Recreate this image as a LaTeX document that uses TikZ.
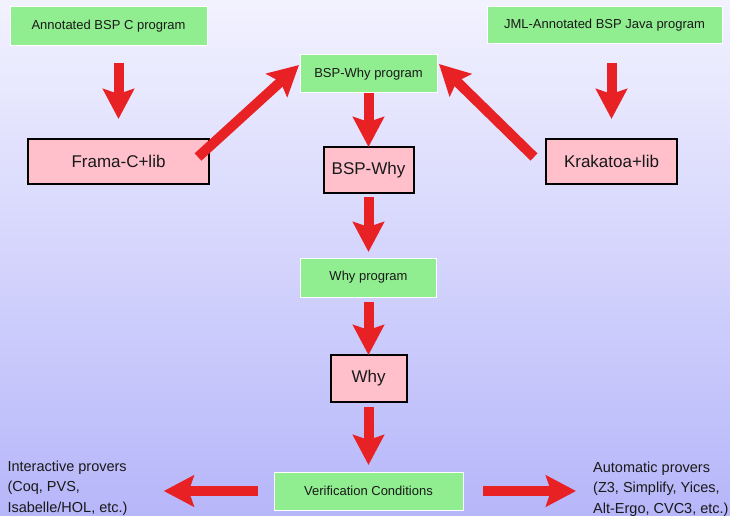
\documentclass[tikz,border=0pt]{standalone}
\usepackage{fontspec}
\setmainfont{Liberation Sans}
\usepackage{tikz}
\usetikzlibrary{arrows.meta, positioning}

\definecolor{bgtop}{RGB}{242,242,255}
\definecolor{bgbottom}{RGB}{182,182,250}
\definecolor{arrowred}{RGB}{232,34,36}
\definecolor{boxgreen}{RGB}{144,238,144}
\definecolor{boxpink}{RGB}{255,192,203}
\definecolor{textdark}{RGB}{25,25,25}

\begin{document}
\begin{tikzpicture}[
	x = 1pt, y = -1pt, % pixel grid, y down
	bigarrow/.style = {draw = arrowred, line width = 10pt,
		-{Stealth[length=30pt, width=31pt, inset=5pt]}}, % fat red arrow
	text = textdark
	]
	
	\tikzstyle{greenbox}=[
	draw = white,
	line width = 1pt,
	fill = boxgreen,
	outer sep = 0pt,
	font = \fontsize{13}{15}\selectfont
	]
	\tikzstyle{pinkbox}=[
	draw = black,
	line width = 2pt,
	fill = boxpink,
	outer sep = 0pt,
	font = \fontsize{17}{20}\selectfont
	]
	\tikzstyle{provers}=[
	inner sep = 0pt,
	align = left,
	anchor = north west,
	font = \fontsize{14.5}{20.5}\selectfont
	]
	
	% background
	\shade[top color = bgtop, bottom color = bgbottom] (0,0) rectangle (730,516);
	\useasboundingbox (0,0) rectangle (730,516);
	
	% central column
	\node[greenbox, minimum width=137pt, minimum height=38pt] (bspwhyprog) at (368.5,74) {BSP-Why program};
	\node[pinkbox, minimum width=90pt, minimum height=46pt] (bspwhy) [below=54pt of bspwhyprog] {BSP-Why};
	\node[greenbox, minimum width=136pt, minimum height=39pt] (whyprog) [below=65pt of bspwhy] {Why program};
	\node[pinkbox, minimum width=76pt, minimum height=47pt] (why) [below=58pt of whyprog] {Why};
	\node[greenbox, minimum width=189pt, minimum height=38pt] (verif) [below=70pt of why] {Verification Conditions};
	
	% front ends
	\node[greenbox, minimum width=197pt, minimum height=39pt] (annotc) at (108.5,26.5) {Annotated BSP C program};
	\node[pinkbox, minimum width=181pt, minimum height=45pt] (frama) at (118.5,161.5) {Frama-C+lib};
	\node[greenbox, minimum width=235pt, minimum height=37pt] (annotjava) at (604.5,25.5) {JML-Annotated BSP Java program};
	\node[pinkbox, minimum width=131pt, minimum height=45pt] (krakatoa) at (611.5,161.5) {Krakatoa+lib};
	
	% provers
	\node[provers] (interactive) at (7.3,460.6) {Interactive provers\\(Coq, PVS,\\Isabelle/HOL, etc.)};
	\node[provers] (automatic) at (593,461.6) {Automatic provers\\(Z3, Simplify, Yices,\\Alt-Ergo, CVC3, etc.)};
	
	\path (frama.north |- annotc.south) edge[bigarrow, shorten <=17pt, shorten >=20pt] (frama.north);
	\path (krakatoa.north |- annotjava.south) edge[bigarrow, shorten <=19pt, shorten >=20pt] (krakatoa.north);
	\path ([shift={(-11,-4.5)}]frama.east) edge[bigarrow] ([shift={(-1,-9)}]bspwhyprog.west);
	\path ([shift={(-12,-4.5)}]krakatoa.west) edge[bigarrow] ([shift={(2,-10)}]bspwhyprog.east);
	\path (bspwhyprog) edge[bigarrow] (bspwhy);
	\path (bspwhy) edge[bigarrow, shorten <=4pt, shorten >=6pt] (whyprog);
	\path (whyprog) edge[bigarrow, shorten <=5pt] (why);
	\path (why) edge[bigarrow, shorten <=5pt, shorten >=7pt] (verif);
	\path (verif.west) edge[bigarrow, shorten <=16pt, shorten >=36pt] (verif.west -| interactive.east);
	\path (verif.east) edge[bigarrow, shorten <=20pt, shorten >=17pt] (verif.east -| automatic.west);
	
\end{tikzpicture}
\end{document}
